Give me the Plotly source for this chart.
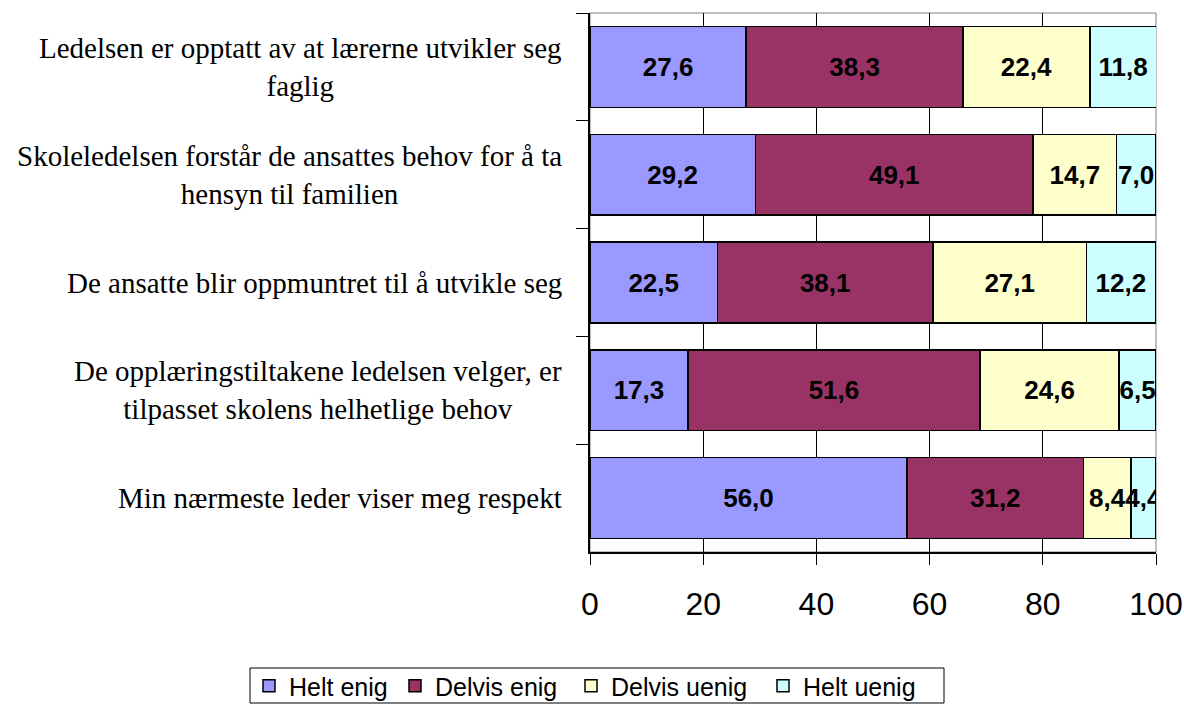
import plotly.graph_objects as go

categories = [
    "Ledelsen er opptatt av at lærerne utvikler seg<br>faglig",
    "Skoleledelsen forstår de ansattes behov for å ta<br>hensyn til familien",
    "De ansatte blir oppmuntret til å utvikle seg",
    "De opplæringstiltakene ledelsen velger, er<br>tilpasset skolens helhetlige behov",
    "Min nærmeste leder viser meg respekt",
]
cat_ids = ["c1", "c2", "c3", "c4", "c5"]
series_names = ["Helt enig", "Delvis enig", "Delvis uenig", "Helt uenig"]
helt_enig = [27.6, 29.2, 22.5, 17.3, 56.0]
delvis_enig = [38.3, 49.1, 38.1, 51.6, 31.2]
delvis_uenig = [22.4, 14.7, 27.1, 24.6, 8.4]
helt_uenig = [11.8, 7.0, 12.2, 6.5, 4.4]
colors = ["#9999FF", "#993366", "#FFFFCC", "#CCFFFF"]
x_ticks = [0, 20, 40, 60, 80, 100]

SANS = "Liberation Sans, Arial, sans-serif"
SERIF = "Liberation Serif, Times New Roman, serif"

W, H = 1184, 704
L, R, T, B = 590, 28, 13, 152
legend_names = ["legend", "legend2", "legend3", "legend4"]
legend_symbol_px = [262, 408, 584, 776]   # left edge of each legend swatch (px)

fig = go.Figure()
for name, vals, col, lg in zip(series_names, [helt_enig, delvis_enig, delvis_uenig, helt_uenig], colors, legend_names):
    fig.add_trace(go.Bar(
        y=cat_ids, x=vals, name=name, orientation="h", legend=lg,
        marker=dict(color=col, line=dict(color="black", width=1.5)),
        texttemplate="%{x:.1f}", textposition="inside", insidetextanchor="middle",
        constraintext="none", textangle=0,
        textfont=dict(family=SANS, size=26, color="black", weight="bold"),
        hoverinfo="skip",
    ))

for cid, label in zip(cat_ids, categories):
    fig.add_annotation(
        x=0, xref="paper", y=cid, yref="y", xanchor="right", yanchor="middle",
        xshift=-26, text=label, showarrow=False, align="center",
        font=dict(family=SERIF, size=29, color="black"),
    )

pw, ph = W - L - R, H - T - B
fig.add_shape(type="rect", xref="paper", yref="paper", x0=0, x1=1, y0=0, y1=1,
              line=dict(color="#808080", width=1), layer="below")
# border around the legend row
fig.add_shape(type="rect", xref="paper", yref="paper",
              x0=(250 - L) / pw, x1=(944 - L) / pw,
              y0=(H - B - 703) / ph, y1=(H - B - 668) / ph,
              line=dict(color="black", width=1), fillcolor="rgba(0,0,0,0)")

legend_layouts = {}
for lg, sx in zip(legend_names, legend_symbol_px):
    legend_layouts[lg] = dict(
        orientation="h", xref="container", yref="container",
        x=(sx - 13) / W, xanchor="left", y=1 - 686 / H, yanchor="middle",
        bgcolor="rgba(0,0,0,0)", borderwidth=0,
        font=dict(family=SANS, size=25, color="black"),
        itemwidth=30,
    )

fig.update_layout(
    width=W, height=H,
    barmode="stack", bargap=0.25,
    separators=", ",
    plot_bgcolor="white", paper_bgcolor="white",
    margin=dict(l=L, r=R, t=T, b=B, autoexpand=False),
    showlegend=True,
    xaxis=dict(
        range=[0, 100], tickvals=x_ticks, showgrid=True, gridcolor="black", gridwidth=1,
        showline=True, linecolor="black", linewidth=1.5,
        ticks="outside", ticklen=11, tickcolor="black",
        ticklabelstandoff=12,
        tickfont=dict(family=SANS, size=32, color="black"),
        zeroline=False, fixedrange=True,
    ),
    yaxis=dict(
        type="category", categoryorder="array", categoryarray=cat_ids,
        autorange="reversed", tickson="boundaries",
        showticklabels=False, showgrid=False,
        showline=True, linecolor="black", linewidth=1.5,
        ticks="outside", ticklen=12, tickcolor="black",
        fixedrange=True,
    ),
    **legend_layouts,
)

fig.write_html("out.html", config={"displayModeBar": False},
               post_script="document.body.style.margin='0';")
